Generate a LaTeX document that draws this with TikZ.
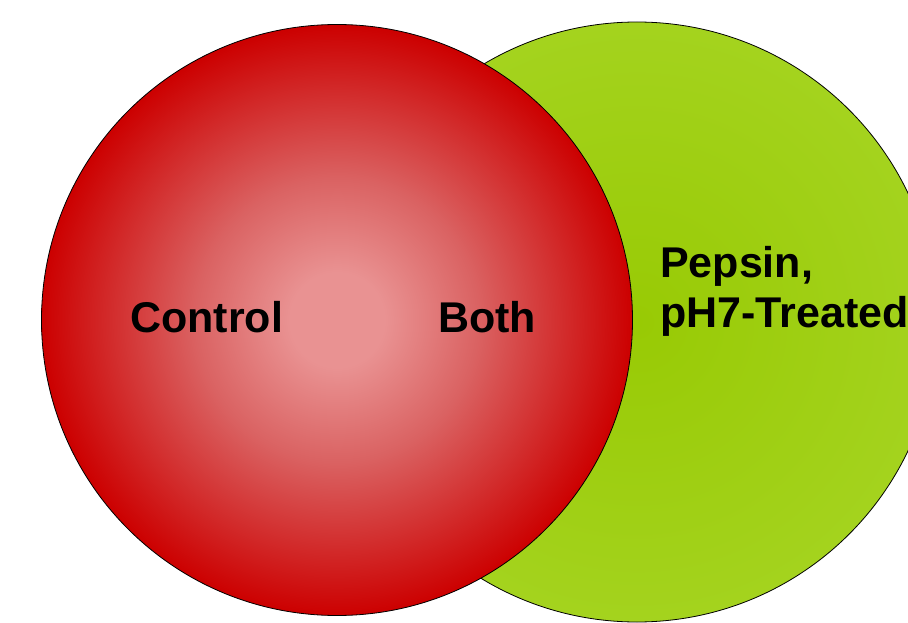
\documentclass[tikz,border=0pt]{standalone}
\usepackage{fontspec}
\setmainfont{Liberation Sans}
\definecolor{redout}{HTML}{CC0000}
\definecolor{redmid}{HTML}{DA6262}
\definecolor{redin}{HTML}{E99292}
\definecolor{greenout}{HTML}{A4D31E}
\definecolor{greenin}{HTML}{98CA04}
\pgfdeclareradialshading{redball}{\pgfpoint{0bp}{0bp}}{color(0bp)=(redin); color(4bp)=(redin); color(12bp)=(redmid); color(25bp)=(redout); color(50bp)=(redout)}
\begin{document}
\begin{tikzpicture}[x=1pt,y=-1pt,
	set/.style={draw=black,line width=.8pt,circle,inner sep=0pt,outer sep=0pt},
	lbl/.style={font=\fontsize{43}{50}\selectfont\bfseries,inner sep=0pt,anchor=base west,align=left}]
	\useasboundingbox (0,0) rectangle (908,623);
	% \fill[white] (0,0) rectangle (908,623);
	\node[set,minimum size=600pt,inner color=greenin,outer color=greenout] (treated) at (637,322) {};
	\node[set,minimum size=591pt,shading=redball] (control) at (337,320) {};
	\node[lbl] (ctrl) at (130,332) {Control};
	\node[lbl] (both) at (438,332) {Both};
	% base of a two-line node sits on its last line
	\node[lbl] (pepsin) at (660,327) {Pepsin,\\pH7-Treated};
\end{tikzpicture}
\end{document}
